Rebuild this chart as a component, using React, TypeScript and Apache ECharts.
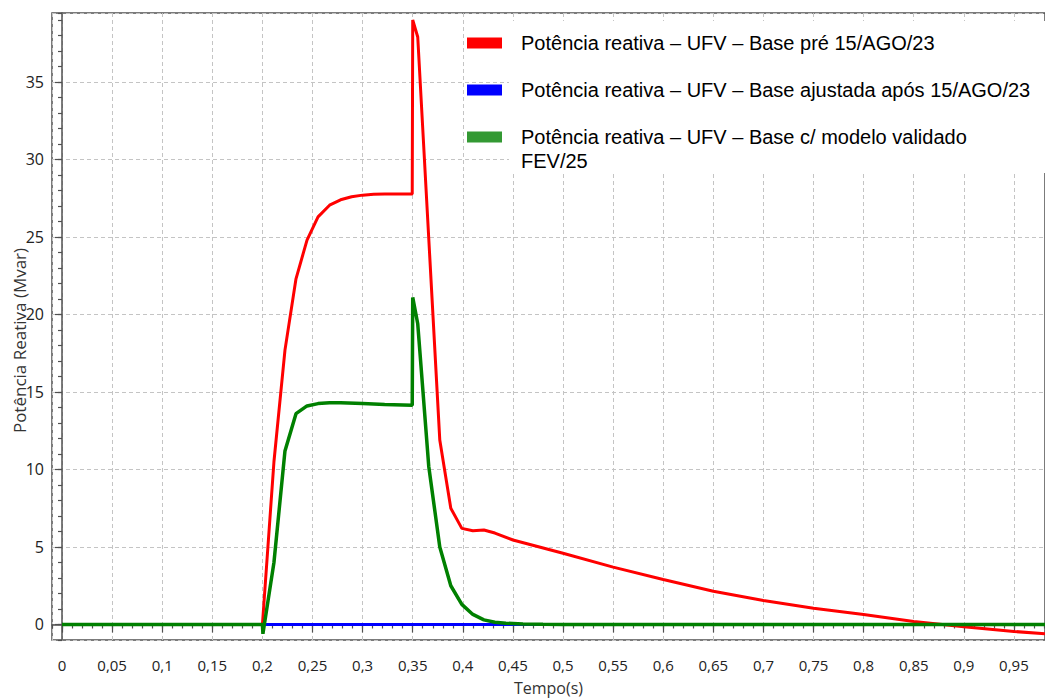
import { useEffect, useRef } from 'react';
import * as echarts from 'echarts';

// ---- Data ----
const seriesNames = [
  'Potência reativa – UFV – Base pré 15/AGO/23',
  'Potência reativa – UFV – Base ajustada após 15/AGO/23',
  'Potência reativa – UFV – Base c/ modelo validado FEV/25',
];

const redT = [0, 0.2, 0.2115, 0.2225, 0.2335, 0.2445, 0.2555, 0.267, 0.278, 0.289, 0.3, 0.311, 0.322, 0.333, 0.344, 0.3495, 0.35, 0.355, 0.366, 0.377, 0.388, 0.399, 0.41, 0.421, 0.432, 0.45, 0.5, 0.55, 0.6, 0.65, 0.7, 0.75, 0.8, 0.85, 0.9, 0.95, 0.981];
const redV = [0, 0, 10.5, 17.7, 22.3, 24.8, 26.3, 27.05, 27.4, 27.6, 27.7, 27.75, 27.77, 27.78, 27.78, 27.78, 39.0, 37.9, 24.9, 11.9, 7.5, 6.2, 6.05, 6.1, 5.9, 5.45, 4.6, 3.7, 2.9, 2.15, 1.55, 1.05, 0.65, 0.2, -0.15, -0.45, -0.6];

const blueT = [0, 0.981];
const blueV = [0, 0];

const greenT = [0, 0.2, 0.2005, 0.2115, 0.2225, 0.2335, 0.2445, 0.2555, 0.267, 0.278, 0.3, 0.322, 0.3495, 0.35, 0.355, 0.366, 0.377, 0.388, 0.399, 0.41, 0.421, 0.432, 0.443, 0.46, 0.48, 0.5, 0.981];
const greenV = [0, 0, -0.6, 4.0, 11.2, 13.6, 14.1, 14.25, 14.3, 14.3, 14.25, 14.2, 14.15, 21.1, 19.4, 10.2, 5.0, 2.5, 1.3, 0.65, 0.3, 0.15, 0.08, 0.03, 0.01, 0, 0];

const lineColors = ['#ff0000', '#0000ff', '#008000'];
const swatchColors = ['#ff0000', '#0000ff', '#339933'];

const xMin = -0.01;
const xMax = 0.981;
const yMin = -1;
const yMax = 39.45;

const xTitle = 'Tempo(s)';
const yTitle = 'Potência Reativa (Mvar)';

const zip = (t: number[], v: number[]) => t.map((x, i) => [x, v[i]]);

const fmtComma = (v: number) => {
  if (v < -1e-9) return '';
  return String(Math.round(v * 100) / 100).replace('.', ',');
};

const axisColor = '#505050';
const labelFont = 'Open Sans, Noto Sans, sans-serif';
const legendFont = 'Liberation Sans, Arial, sans-serif';

export default function App() {
  const ref = useRef<HTMLDivElement>(null);

  useEffect(() => {
    if (!ref.current) return;
    const chart = echarts.init(ref.current, undefined, { renderer: 'svg' });

    const legendCommon = {
      orient: 'vertical',
      left: 467,
      icon: 'rect',
      itemWidth: 35,
      itemHeight: 11,
      padding: 0,
      selectedMode: false,
      textStyle: {
        fontSize: 20,
        fontFamily: legendFont,
        color: '#000',
        lineHeight: 24,
        padding: [0, 0, 0, 14],
      },
    };

    const option: any = {
      animation: false,
      backgroundColor: '#ffffff',
      grid: {
        left: 52,
        right: 0,
        top: 13,
        bottom: 59,
        show: true,
        borderColor: axisColor,
        borderWidth: 1.5,
        backgroundColor: 'transparent',
        containLabel: false,
        outerBoundsMode: 'none',
      },
      legend: [
        { ...legendCommon, top: 31, data: [{ name: seriesNames[0], itemStyle: { color: swatchColors[0] } }] },
        { ...legendCommon, top: 78, data: [{ name: seriesNames[1], itemStyle: { color: swatchColors[1] } }] },
        {
          ...legendCommon,
          top: 101,
          data: [{ name: seriesNames[2], itemStyle: { color: swatchColors[2] } }],
          formatter: () => '\nPotência reativa – UFV – Base c/ modelo validado\nFEV/25',
        },
      ],
      graphic: [
        {
          type: 'rect',
          silent: true,
          z: 1,
          shape: { x: 509, y: 21, width: 540, height: 152 },
          style: { fill: '#ffffff' },
        },
      ],
      xAxis: [
        {
          type: 'value',
          min: xMin,
          max: xMax,
          splitNumber: 20,
          position: 'bottom',
          name: xTitle,
          nameLocation: 'middle',
          nameGap: 40,
          nameMoveOverlap: false,
          nameTextStyle: { fontSize: 16, color: '#333', fontFamily: labelFont },
          axisLine: { show: true, lineStyle: { color: axisColor, width: 1.5 } },
          axisTick: { show: true, length: 8, lineStyle: { color: axisColor, width: 1.2 } },
          axisLabel: {
            showMinLabel: false,
            showMaxLabel: false,
            fontSize: 15,
            color: '#222',
            fontFamily: labelFont,
            margin: 17,
            formatter: fmtComma,
          },
          splitLine: { show: true, lineStyle: { color: '#c4c4c4', type: [4, 3], width: 1 } },
        },
        {
          type: 'value',
          min: xMin,
          max: xMax,
          interval: 0.01,
          position: 'bottom',
          axisLine: { show: false },
          axisTick: { show: true, length: 4, lineStyle: { color: axisColor, width: 1.2 } },
          axisLabel: { show: false },
          splitLine: { show: false },
        },
      ],
      yAxis: [
        {
          type: 'value',
          min: yMin,
          max: yMax,
          splitNumber: 8,
          position: 'left',
          name: yTitle,
          nameLocation: 'middle',
          nameGap: 24,
          nameMoveOverlap: false,
          nameTextStyle: { fontSize: 17, color: '#333', fontFamily: labelFont, padding: [0, 28, 0, 0] },
          axisLine: { show: true, lineStyle: { color: axisColor, width: 1.5 } },
          axisTick: { show: true, length: 7, lineStyle: { color: axisColor, width: 1.2 } },
          axisLabel: {
            showMinLabel: false,
            showMaxLabel: false,
            fontSize: 16,
            color: '#222',
            fontFamily: labelFont,
            margin: 8,
            formatter: fmtComma,
          },
          splitLine: { show: true, lineStyle: { color: '#c4c4c4', type: [4, 3], width: 1 } },
        },
        {
          type: 'value',
          min: yMin,
          max: yMax,
          interval: 1,
          position: 'left',
          axisLine: { show: false },
          axisTick: { show: true, length: 4, lineStyle: { color: axisColor, width: 1.2 } },
          axisLabel: { show: false },
          splitLine: { show: false },
        },
      ],
      series: [
        {
          name: seriesNames[0],
          type: 'line',
          data: zip(redT, redV),
          showSymbol: false,
          symbol: 'none',
          color: lineColors[0],
          lineStyle: { color: lineColors[0], width: 3 },
          z: 3,
        },
        {
          name: seriesNames[1],
          type: 'line',
          data: zip(blueT, blueV),
          showSymbol: false,
          symbol: 'none',
          color: lineColors[1],
          lineStyle: { color: lineColors[1], width: 3 },
          z: 2,
        },
        {
          name: seriesNames[2],
          type: 'line',
          data: zip(greenT, greenV),
          showSymbol: false,
          symbol: 'none',
          color: lineColors[2],
          lineStyle: { color: lineColors[2], width: 3.5 },
          z: 3,
        },
      ],
    };

    chart.setOption(option);
    return () => chart.dispose();
  }, []);

  return (
    <div
      ref={ref}
      style={{ position: 'absolute', left: 0, top: 0, width: 1045, height: 699, background: '#fff' }}
    />
  );
}
